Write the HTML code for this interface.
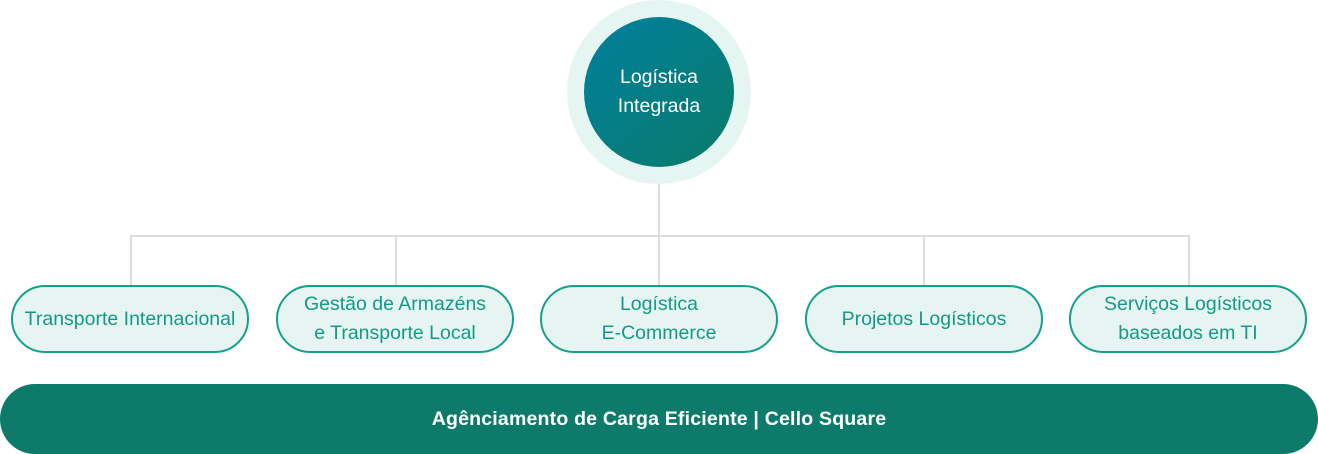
<!DOCTYPE html>
<html><head><meta charset="utf-8"><style>
body{margin:0;width:1318px;height:454px;background:#fff;position:relative;overflow:hidden;font-family:"Liberation Sans",sans-serif}
.outer{position:absolute;left:567px;top:0;width:184px;height:184px;border-radius:50%;background:#e5f5f1}
.inner{position:absolute;left:584px;top:17px;width:150px;height:150px;border-radius:50%;background:linear-gradient(135deg,#00809e,#0a7a68);color:#fff;display:flex;align-items:center;justify-content:center;text-align:center;font-size:19.5px;line-height:29px;font-weight:500}
.l{position:absolute;background:#ddd}
.pill{position:absolute;top:285px;width:234px;height:64px;border:2px solid #14a08a;border-radius:34px;background:#e6f5f1;color:#139a85;display:flex;align-items:center;justify-content:center;text-align:center;font-size:19.5px;line-height:29px;white-space:nowrap}
.bar{position:absolute;left:0;top:384px;width:1318px;height:70px;border-radius:35px;background:#0e7a6a;color:#fff;font-weight:bold;font-size:19.5px;display:flex;align-items:center;justify-content:center;letter-spacing:0.2px}
</style></head><body>
<div class="l" style="left:658px;top:184px;width:2px;height:101px"></div>
<div class="l" style="left:130px;top:235px;width:1060px;height:2px"></div>
<div class="l" style="left:130px;top:235px;width:2px;height:50px"></div>
<div class="l" style="left:395px;top:235px;width:2px;height:50px"></div>
<div class="l" style="left:923px;top:235px;width:2px;height:50px"></div>
<div class="l" style="left:1188px;top:235px;width:2px;height:50px"></div>
<div class="outer"></div>
<div class="inner">Logística<br>Integrada</div>
<div class="pill" style="left:11px">Transporte Internacional</div>
<div class="pill" style="left:276px">Gestão de Armazéns<br>e Transporte Local</div>
<div class="pill" style="left:540px">Logística<br>E-Commerce</div>
<div class="pill" style="left:805px">Projetos Logísticos</div>
<div class="pill" style="left:1069px">Serviços Logísticos<br>baseados em TI</div>
<div class="bar">Agênciamento de Carga Eficiente | Cello Square</div>
</body></html>
